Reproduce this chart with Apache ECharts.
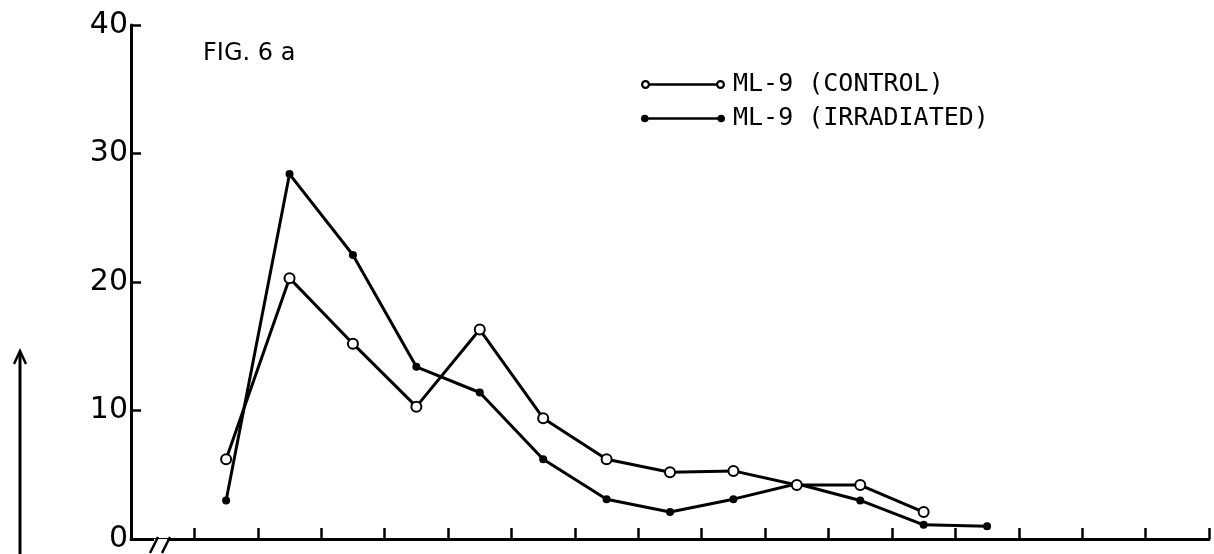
<!DOCTYPE html>
<html>
<head>
<meta charset="utf-8">
<script src="https://cdn.jsdelivr.net/npm/echarts@6/dist/echarts.min.js"></script>
<style>
html,body{margin:0;padding:0;background:#fff;}
#chart{width:1214px;height:554px;}
</style>
</head>
<body>
<div id="chart"></div>
<script>
// ---- data ----
const categories = ['1','2','3','4','5','6','7','8','9','10','11','12','13','14','15','16','17'];
const controlValues    = [null, 6.2, 20.3, 15.2, 10.3, 16.3, 9.4, 6.2, 5.2, 5.3, 4.2, 4.2, 2.1, null, null, null, null];
const irradiatedValues = [null, 3.0, 28.4, 22.1, 13.4, 11.4, 6.2, 3.1, 2.1, 3.1, 4.3, 3.0, 1.1, 1.0, null, null, null];
const yTicks = [0, 10, 20, 30, 40];
const seriesNames = ['ML-9 (CONTROL)', 'ML-9 (IRRADIATED)'];
const figLabel = 'FIG. 6 a';

const FONT = 'DejaVu Sans';
const openIcon = 'path://M0,4.5 A4.5,4.5 0 1 1 9,4.5 A4.5,4.5 0 1 1 0,4.5 Z ' +
  'M2.2,4.5 A2.3,2.3 0 1 0 6.8,4.5 A2.3,2.3 0 1 0 2.2,4.5 Z ' +
  'M8.5,3.2 L75.5,3.2 L75.5,5.8 L8.5,5.8 Z ' +
  'M75,4.5 A4.5,4.5 0 1 1 84,4.5 A4.5,4.5 0 1 1 75,4.5 Z ' +
  'M77.2,4.5 A2.3,2.3 0 1 0 81.8,4.5 A2.3,2.3 0 1 0 77.2,4.5 Z';
const filledIcon = 'path://M0,4.5 A3.8,3.8 0 1 1 7.6,4.5 A3.8,3.8 0 1 1 0,4.5 Z ' +
  'M6,3.2 L78,3.2 L78,5.8 L6,5.8 Z ' +
  'M76.4,4.5 A3.8,3.8 0 1 1 84,4.5 A3.8,3.8 0 1 1 76.4,4.5 Z ' +
  'M0,0.7 L0.01,0.7 Z M0,8.3 L0.01,8.3 Z';

const chart = echarts.init(document.getElementById('chart'), null, {renderer: 'canvas'});
chart.setOption({
  animation: false,
  backgroundColor: '#fff',
  title: {
    text: figLabel, left: 198, top: 37,
    textStyle: {fontFamily: FONT, fontSize: 24, fontWeight: 'normal', color: '#000'}
  },
  legend: {
    orient: 'vertical', left: 636, top: 67,
    itemWidth: 84, itemHeight: 9, itemGap: 9,
    selectedMode: false,
    textStyle: {fontFamily: 'DejaVu Sans Mono', fontSize: 25, color: '#000', padding: [0,0,0,3], lineHeight: 24},
    itemStyle: {color: '#000', borderWidth: 0},
    data: [
      {name: seriesNames[0], icon: openIcon, itemStyle: {color: '#000', borderWidth: 0}},
      {name: seriesNames[1], icon: filledIcon, itemStyle: {color: '#000', borderWidth: 0}}
    ]
  },
  grid: {left: 131, right: 5, top: 25, bottom: 11},
  xAxis: {
    type: 'category', data: categories, boundaryGap: true,
    axisLine: {show: true, lineStyle: {color: '#000', width: 3}},
    axisTick: {show: true, interval: 0, inside: true, length: 11, lineStyle: {color: '#000', width: 2.5}},
    axisLabel: {show: true, interval: 0, color: 'rgba(0,0,0,0)', fontSize: 1, formatter: function () { return ''; }},
    splitLine: {show: false}
  },
  yAxis: {
    type: 'value', min: yTicks[0], max: yTicks[yTicks.length - 1], interval: 10,
    axisLine: {show: true, lineStyle: {color: '#000', width: 3}},
    axisTick: {show: true, inside: true, length: 10, lineStyle: {color: '#000', width: 2.5}},
    axisLabel: {fontFamily: FONT, fontSize: 30, color: '#000', margin: 3},
    splitLine: {show: false}
  },
  series: [
    {
      name: seriesNames[0], type: 'line', data: controlValues,
      symbol: 'emptyCircle', symbolSize: 10,
      lineStyle: {color: '#000', width: 3},
      itemStyle: {color: '#000', borderColor: '#000', borderWidth: 2.8},
      z: 3
    },
    {
      name: seriesNames[1], type: 'line', data: irradiatedValues,
      symbol: 'circle', symbolSize: 8,
      lineStyle: {color: '#000', width: 3},
      itemStyle: {color: '#000'},
      z: 2
    }
  ],
  graphic: [
    {type: 'line', shape: {x1: 20, y1: 352, x2: 20, y2: 554}, style: {stroke: '#000', lineWidth: 3}},
    {type: 'polyline', shape: {points: [[14, 364], [20, 351], [26, 364]]}, style: {stroke: '#000', lineWidth: 2.5, fill: null}},
    {type: 'rect', shape: {x: 154, y: 539, width: 13, height: 8}, style: {fill: '#fff'}, z: 100},
    {type: 'line', shape: {x1: 150, y1: 553, x2: 158, y2: 537}, style: {stroke: '#000', lineWidth: 2.5}, z: 101},
    {type: 'line', shape: {x1: 162, y1: 553, x2: 170, y2: 537}, style: {stroke: '#000', lineWidth: 2.5}, z: 101}
  ]
});
</script>
</body>
</html>
